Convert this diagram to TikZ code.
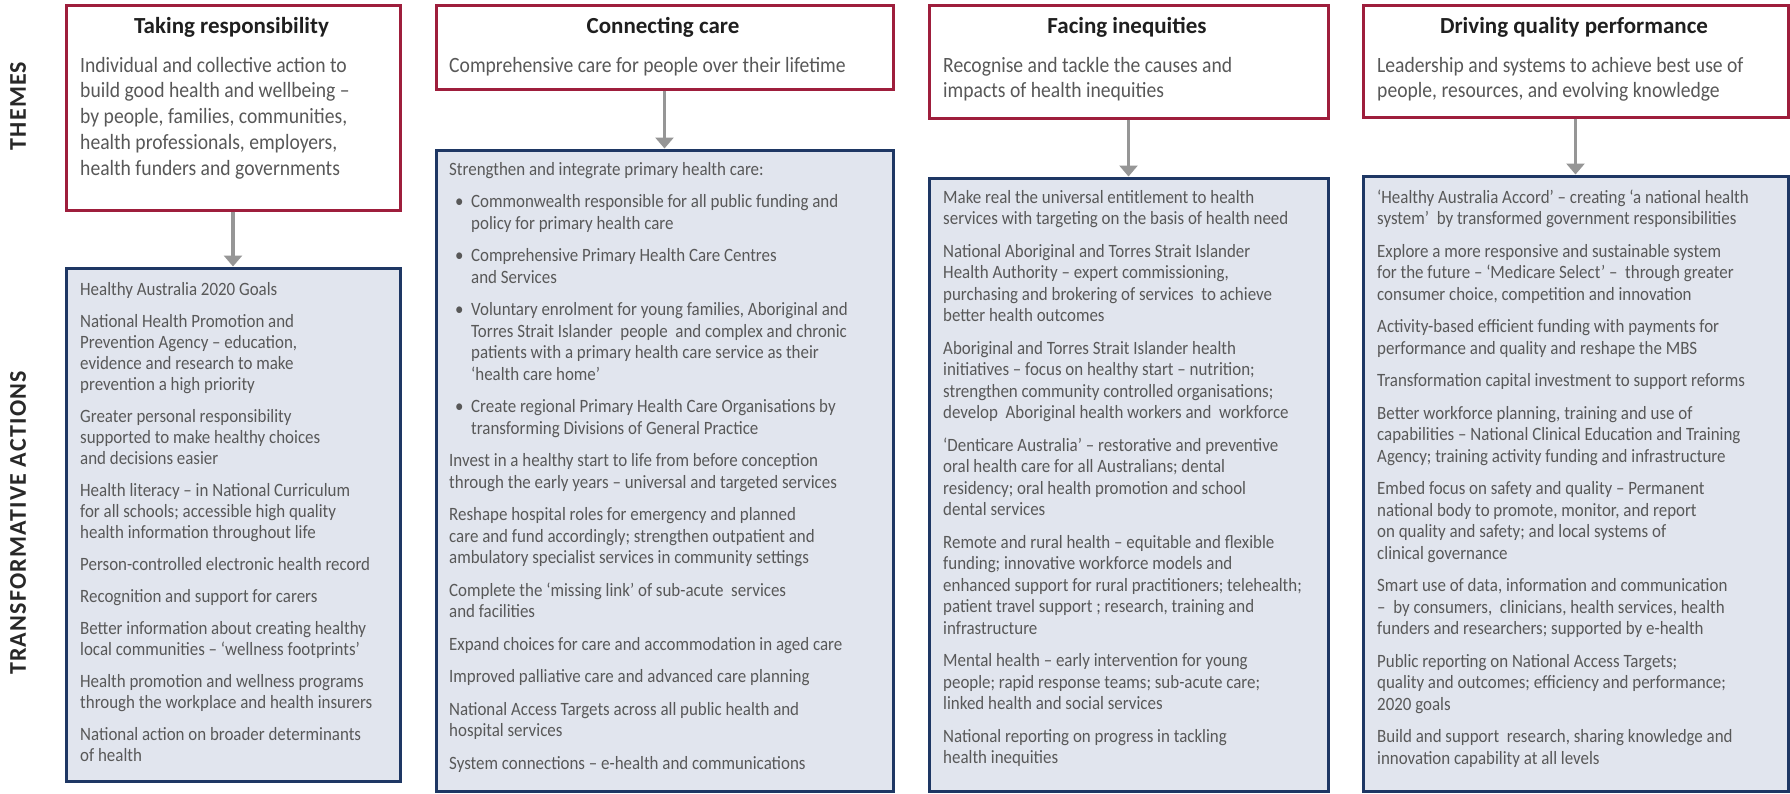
\documentclass[tikz,border=0pt]{standalone}
\usepackage{fontspec}
\setmainfont{Carlito}
\newfontfamily\bodyfont{Carlito}[FakeStretch=0.9]
\usetikzlibrary{arrows.meta}
\definecolor{themered}{RGB}{158,30,60}
\definecolor{actblue}{RGB}{30,55,100}
\definecolor{actfill}{RGB}{225,229,238}
\definecolor{bodygrey}{RGB}{88,88,88}
\definecolor{arrowgrey}{RGB}{150,150,150}
\definecolor{labelgrey}{RGB}{40,40,40}
\newcommand\myBullet{\hspace*{6pt}\makebox[16pt][l]{\textbullet}}
\newcommand\myIndent{\hspace*{22pt}}
\begin{document}
\begin{tikzpicture}[x=1pt,y=-1pt,
  themebox/.style={draw=themered, line width=3pt, fill=white, rectangle, inner sep=0pt, anchor=north west},
  actbox/.style={draw=actblue, line width=3pt, fill=actfill, rectangle, inner sep=0pt, anchor=north west},
  titletext/.style={font=\bfseries\fontsize{23}{27}\selectfont, text=black!88, inner sep=0pt, anchor=base},
  themetext/.style={font=\bodyfont\fontsize{21.8}{25.7}\selectfont, text=bodygrey, inner sep=0pt, anchor=north west, align=left},
  acttext/.style={font=\bodyfont\fontsize{18.8}{21.5}\selectfont, text=bodygrey, inner sep=0pt, anchor=north west, align=left},
  sidelabel/.style={font=\bfseries\fontsize{24}{28}\selectfont\addfontfeature{LetterSpace=5}, text=labelgrey, rotate=90, inner sep=0pt},
  flow/.style={draw=arrowgrey, line width=3.5pt, -{Triangle[width=18pt,length=11pt]}},
]
\fill[white] (0,0) rectangle (1790,793);
\useasboundingbox (0,0) rectangle (1790,793);

% side labels
\node[sidelabel] (lthemes) at (18,106) {THEMES};
\node[sidelabel] (lactions) at (18,523) {TRANSFORMATIVE ACTIONS};

% theme boxes
\node[themebox, minimum width=334pt, minimum height=205pt] (t1) at (64.5,3.5) {};
\node[themebox, minimum width=457pt, minimum height=84pt] (t2) at (434.5,3.5) {};
\node[themebox, minimum width=399pt, minimum height=113pt] (t3) at (927.5,3.5) {};
\node[themebox, minimum width=425pt, minimum height=112pt] (t4) at (1361.5,3.5) {};

% action boxes
\node[actbox, minimum width=334pt, minimum height=513pt] (a1) at (64.5,266.5) {};
\node[actbox, minimum width=457pt, minimum height=641pt] (a2) at (434.5,148.5) {};
\node[actbox, minimum width=399pt, minimum height=613.5pt] (a3) at (927.5,176.5) {};
\node[actbox, minimum width=425pt, minimum height=615pt] (a4) at (1361.5,174.5) {};

% arrows
\draw[flow] (t1.south) -- (a1.north);
\draw[flow] (t2.south) -- (a2.north);
\draw[flow] (t3.south) -- (a3.north);
\draw[flow] (t4.south) -- (a4.north);

% titles
\node[titletext] (h1) at (231.5,33) {Taking responsibility};
\node[titletext] (h2) at (663,33) {Connecting care};
\node[titletext] (h3) at (1127,33) {Facing inequities};
\node[titletext] (h4) at (1574,33) {Driving quality performance};

% theme texts
\node[themetext] (b1) at (80,50) {\rule{0pt}{22pt}Individual and collective action to\\
build good health and wellbeing –\\
by people, families, communities,\\
health professionals, employers,\\
health funders and governments};
\node[themetext] (b2) at (449,50) {\rule{0pt}{22pt}Comprehensive care for people over their lifetime};
\node[themetext] (b3) at (943,50) {\rule{0pt}{22pt}Recognise and tackle the causes and\\
impacts of health inequities};
\node[themetext] (b4) at (1377,50) {\rule{0pt}{22pt}Leadership and systems to achieve best use of\\
people, resources, and evolving knowledge};

% action texts
\node[acttext, font=\bodyfont\fontsize{18.8}{21}\selectfont] (c1) at (80,275) {\rule{0pt}{20pt}Healthy Australia 2020 Goals\\[11pt]
National Health Promotion and\\
Prevention Agency – education,\\
evidence and research to make\\
prevention a high priority\\[11pt]
Greater personal responsibility\\
supported to make healthy choices\\
and decisions easier\\[11pt]
Health literacy – in National Curriculum\\
for all schools; accessible high quality\\
health information throughout life\\[11pt]
Person-controlled electronic health record\\[11pt]
Recognition and support for carers\\[11pt]
Better information about creating healthy\\
local communities – ‘wellness footprints’\\[11pt]
Health promotion and wellness programs\\
through the workplace and health insurers\\[11pt]
National action on broader determinants\\
of health};

\node[acttext] (c2) at (449,155) {\rule{0pt}{20pt}Strengthen and integrate primary health care:\\[11pt]
\myBullet Commonwealth responsible for all public funding and\\
\myIndent policy for primary health care\\[11pt]
\myBullet Comprehensive Primary Health Care Centres\\
\myIndent and Services\\[11pt]
\myBullet Voluntary enrolment for young families, Aboriginal and\\
\myIndent Torres Strait Islander\ \ people\ \ and complex and chronic\\
\myIndent patients with a primary health care service as their\\
\myIndent ‘health care home’\\[11pt]
\myBullet Create regional Primary Health Care Organisations by\\
\myIndent transforming Divisions of General Practice\\[11pt]
Invest in a healthy start to life from before conception\\
through the early years – universal and targeted services\\[11pt]
Reshape hospital roles for emergency and planned\\
care and fund accordingly; strengthen outpatient and\\
ambulatory specialist services in community settings\\[11pt]
Complete the ‘missing link’ of sub-acute\ \ services\\
and facilities\\[11pt]
Expand choices for care and accommodation in aged care\\[11pt]
Improved palliative care and advanced care planning\\[11pt]
National Access Targets across all public health and\\
hospital services\\[11pt]
System connections – e-health and communications};

\node[acttext] (c3) at (943,183) {\rule{0pt}{20pt}Make real the universal entitlement to health\\
services with targeting on the basis of health need\\[11pt]
National Aboriginal and Torres Strait Islander\\
Health Authority – expert commissioning,\\
purchasing and brokering of services\ \ to achieve\\
better health outcomes\\[11pt]
Aboriginal and Torres Strait Islander health\\
initiatives – focus on healthy start – nutrition;\\
strengthen community controlled organisations;\\
develop\ \ Aboriginal health workers and\ \ workforce\\[11pt]
‘Denticare Australia’ – restorative and preventive\\
oral health care for all Australians; dental\\
residency; oral health promotion and school\\
dental services\\[11pt]
Remote and rural health – equitable and flexible\\
funding; innovative workforce models and\\
enhanced support for rural practitioners; telehealth;\\
patient travel support ; research, training and\\
infrastructure\\[11pt]
Mental health – early intervention for young\\
people; rapid response teams; sub-acute care;\\
linked health and social services\\[11pt]
National reporting on progress in tackling\\
health inequities};

\node[acttext] (c4) at (1377,183) {\rule{0pt}{20pt}‘Healthy Australia Accord’ – creating ‘a national health\\
system’\ \ by transformed government responsibilities\\[11pt]
Explore a more responsive and sustainable system\\
for the future – ‘Medicare Select’ –\ \ through greater\\
consumer choice, competition and innovation\\[11pt]
Activity-based efficient funding with payments for\\
performance and quality and reshape the MBS\\[11pt]
Transformation capital investment to support reforms\\[11pt]
Better workforce planning, training and use of\\
capabilities – National Clinical Education and Training\\
Agency; training activity funding and infrastructure\\[11pt]
Embed focus on safety and quality – Permanent\\
national body to promote, monitor, and report\\
on quality and safety; and local systems of\\
clinical governance\\[11pt]
Smart use of data, information and communication\\
–\ \ by consumers,\ \ clinicians, health services, health\\
funders and researchers; supported by e-health\\[11pt]
Public reporting on National Access Targets;\\
quality and outcomes; efficiency and performance;\\
2020 goals\\[11pt]
Build and support\ \ research, sharing knowledge and\\
innovation capability at all levels};
\end{tikzpicture}
\end{document}
